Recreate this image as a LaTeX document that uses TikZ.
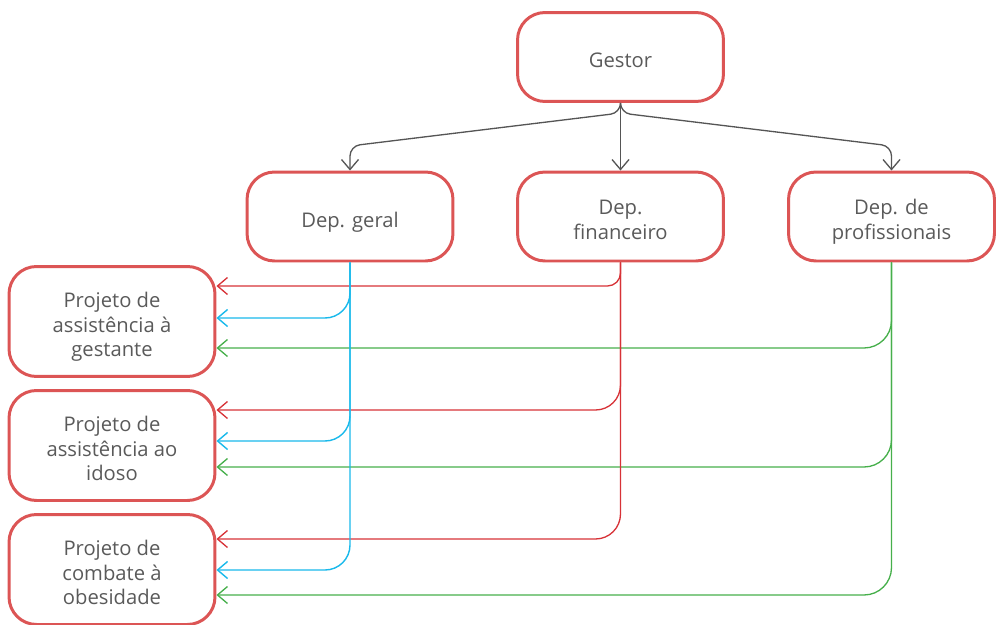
\documentclass[tikz,border=0pt]{standalone}
\usepackage{fontspec}
\setmainfont{Open Sans}
\usetikzlibrary{arrows.meta}

\definecolor{boxred}{RGB}{220,85,85}
\definecolor{txtgray}{RGB}{90,90,90}
\definecolor{linkgray}{RGB}{85,85,85}
\definecolor{linkred}{RGB}{215,50,55}
\definecolor{linkblue}{RGB}{25,185,235}
\definecolor{linkgreen}{RGB}{70,175,75}

% centred label, set slightly below the middle of its box
\newcommand{\boxlabel}[1]{\raisebox{-3.2pt}[\height][\depth]{\begin{tabular}{@{}c@{}}#1\end{tabular}}}

\tikzset{
  unitbox/.style={draw=boxred, line width=1.7pt, fill=white, rounded corners=0.55cm,
    text=txtgray, inner sep=2pt,
    font=\fontsize{11.5}{13.9}\selectfont},
  topbox/.style={unitbox, minimum width=4.12cm, minimum height=1.78cm},
  projbox/.style={unitbox, minimum width=4.12cm, minimum height=2.2cm},
  tip/.style={-{Straight Barb[length=0.2cm,width=0.34cm]}},
  graylink/.style={tip, draw=linkgray, line width=0.75pt, rounded corners=0.2cm},
  redlink/.style={tip, draw=linkred, line width=0.75pt, rounded corners=0.5cm},
  bluelink/.style={tip, draw=linkblue, line width=0.8pt, rounded corners=0.5cm},
  greenlink/.style={tip, draw=linkgreen, line width=0.75pt, rounded corners=0.55cm},
}

\begin{document}
\begin{tikzpicture}[x=0.02cm, y=-0.02cm]
\useasboundingbox (0,0) rectangle (1000,625);

% management level
\node[topbox] (gestor) at (620.5,57) {\boxlabel{Gestor}};

% departments
\node[topbox] (geral) at (350,216.5) {\boxlabel{Dep. geral}};
\node[topbox] (fin)   at (620.5,216.5) {\boxlabel{Dep.\\financeiro}};
\node[topbox] (prof)  at (891.5,216.5) {\boxlabel{Dep. de\\profissionais}};

% projects
\node[projbox] (gest) at (112,321.5) {\boxlabel{Projeto de\\assistência à\\gestante}};
\node[projbox] (idoso) at (112,445.5) {\boxlabel{Projeto de\\assistência ao\\idoso}};
\node[projbox] (obes) at (112,569.5) {\boxlabel{Projeto de\\combate à\\obesidade}};

% tree from the manager to the departments
\coordinate (split) at (620.5,113);
\coordinate (bendl) at (350,146);
\coordinate (bendr) at (891.5,146);
\draw[graylink] (gestor.south) -- (split) -- (bendl) -- (geral.north);
\draw[graylink] (gestor.south) -- (fin.north);
\draw[graylink] (gestor.south) -- (split) -- (bendr) -- (prof.north);

% professionals department to the projects
\draw[greenlink] (prof.south) -- (prof.south |- 0,348) -- (gest.east |- 0,348);
\draw[greenlink] (prof.south) -- (prof.south |- 0,467) -- (idoso.east |- 0,467);
\draw[greenlink] (prof.south) -- (prof.south |- 0,595) -- (obes.east |- 0,595);

% finance department to the projects
\draw[redlink, rounded corners=0.26cm] (fin.south) -- (fin.south |- 0,286) -- (gest.east |- 0,286);
\draw[redlink] (fin.south) -- (fin.south |- 0,410) -- (idoso.east |- 0,410);
\draw[redlink] (fin.south) -- (fin.south |- 0,539) -- (obes.east |- 0,539);

% general department to the projects
\draw[bluelink] (geral.south) -- (geral.south |- 0,318) -- (gest.east |- 0,318);
\draw[bluelink] (geral.south) -- (geral.south |- 0,441) -- (idoso.east |- 0,441);
\draw[bluelink] (geral.south) -- (geral.south |- 0,570) -- (obes.east |- 0,570);
\end{tikzpicture}
\end{document}
